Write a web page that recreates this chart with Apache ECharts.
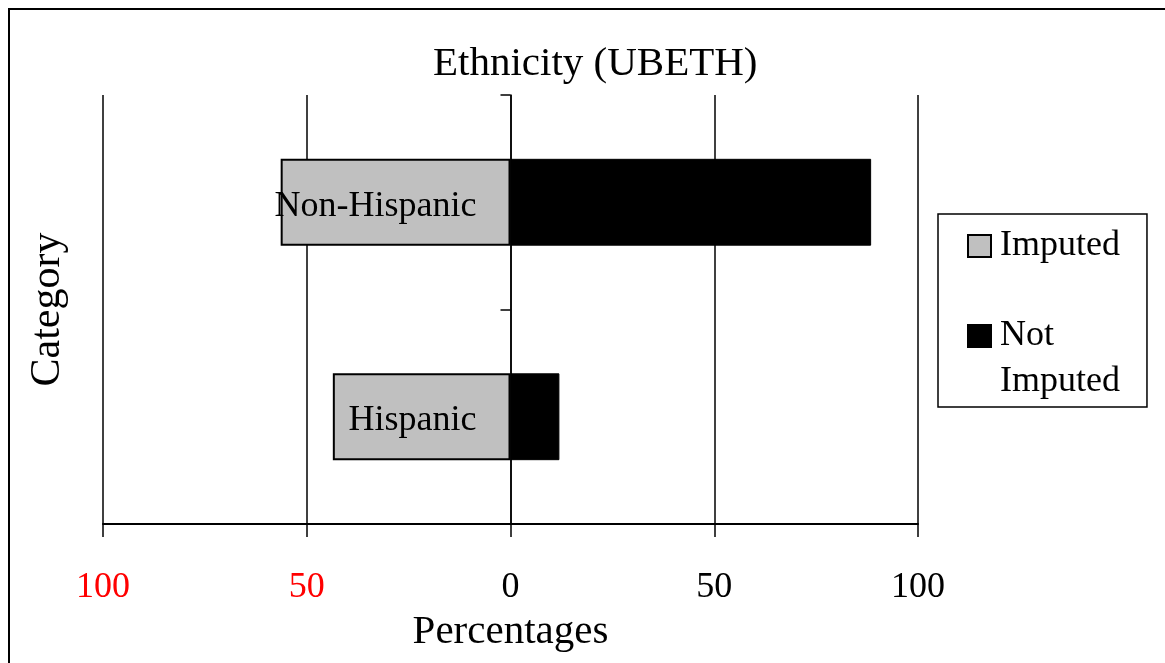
<!DOCTYPE html>
<html>
<head>
<meta charset="utf-8">
<script src="https://cdn.jsdelivr.net/npm/echarts@6/dist/echarts.min.js"></script>
<style>
  html, body { margin: 0; padding: 0; background: #fff; }
  #chart { width: 1165px; height: 663px; }
</style>
</head>
<body>
<div id="chart"></div>
<script>
// Ethnicity groups, bottom to top
const categories = ['Hispanic', 'Non-Hispanic'];
// Percent of imputed cases (drawn to the left of zero)
const imputedValues = [43.6, 56.4];
// Percent of non-imputed cases (drawn to the right of zero)
const notImputedValues = [12.0, 88.5];
// Percentage axis ticks
const xTicks = [-100, -50, 0, 50, 100];

const FONT = "'Liberation Serif', 'Times New Roman', serif";

// grid edges in pixels
const GRID_LEFT = 103, GRID_RIGHT = 247, GRID_TOP = 95, GRID_BOTTOM = 139;
// the category axis sits at x = 0, i.e. midway across the plot
const ZERO_X = GRID_LEFT + (1165 - GRID_LEFT - GRID_RIGHT) / 2;

const chart = echarts.init(document.getElementById('chart'));

chart.setOption({
  backgroundColor: '#fff',
  animation: false,
  textStyle: { fontFamily: FONT, color: '#000' },
  graphic: [{
    type: 'rect',
    shape: { x: 9, y: 9, width: 1300, height: 800 },
    style: { fill: 'none', stroke: '#000', lineWidth: 2 },
    silent: true
  }],
  title: {
    text: 'Ethnicity (UBETH)',
    left: 428,
    top: 39,
    textStyle: { fontFamily: FONT, fontWeight: 'normal', fontSize: 41, color: '#000' }
  },
  legend: {
    orient: 'vertical',
    left: 938,
    top: 214,
    padding: [9, 27, 2, 29],
    borderColor: '#000',
    borderWidth: 1.5,
    itemWidth: 23,
    itemHeight: 22,
    itemGap: -2,
    icon: 'rect',
    textStyle: { fontFamily: FONT, fontSize: 36, color: '#000', lineHeight: 46, padding: [0, 0, 0, 4] },
    // leading blank line keeps "Not" level with its swatch
    formatter: (name) => name === 'Not Imputed' ? '\nNot\nImputed' : name,
    data: ['Imputed', 'Not Imputed']
  },
  grid: { left: GRID_LEFT, right: GRID_RIGHT, top: GRID_TOP, bottom: GRID_BOTTOM, containLabel: false, outerBoundsMode: 'none' },
  xAxis: {
    type: 'value',
    min: xTicks[0],
    max: xTicks[xTicks.length - 1],
    interval: 50,
    name: 'Percentages',
    nameLocation: 'middle',
    nameGap: 88,
    nameTextStyle: { fontFamily: FONT, fontSize: 41, color: '#000' },
    axisLine: { show: true, onZero: false, lineStyle: { color: '#000', width: 2 } },
    axisTick: { show: true, length: 13, lineStyle: { color: '#000', width: 1.5 } },
    splitLine: { show: true, lineStyle: { color: '#000', width: 1.5 } },
    axisLabel: {
      margin: 46,
      fontFamily: FONT,
      fontSize: 36,
      color: '#000',
      formatter: (v) => v < 0 ? '{neg|' + Math.abs(v) + '}' : String(v),
      rich: { neg: { color: '#ff0000', fontFamily: FONT, fontSize: 36 } }
    }
  },
  yAxis: {
    type: 'category',
    data: categories,
    z: 10,
    name: 'Category',
    nameLocation: 'middle',
    nameGap: 34,
    nameTextStyle: { fontFamily: FONT, fontSize: 42, color: '#000' },
    axisLine: { show: true, onZero: true, lineStyle: { color: '#000', width: 1.5 } },
    axisTick: { show: true, length: 10, lineStyle: { color: '#000', width: 1.5 } },
    // labels are laid out from the grid's left edge; pull them in next to the zero line
    axisLabel: {
      margin: -(ZERO_X - GRID_LEFT) + 34,
      fontFamily: FONT,
      fontSize: 36,
      color: '#000',
      formatter: (v) => '{cat|' + v + '}',
      rich: { cat: { fontFamily: FONT, fontSize: 36, color: '#000', padding: [8, 0, 0, 0] } }
    }
  },
  series: [
    {
      name: 'Imputed',
      type: 'bar',
      stack: 'total',
      barWidth: '40.5%',
      data: imputedValues.map(v => -v),
      itemStyle: { color: '#c0c0c0', borderColor: '#000', borderWidth: 2 },
      z: 1
    },
    {
      name: 'Not Imputed',
      type: 'bar',
      stack: 'total',
      barWidth: '40.5%',
      data: notImputedValues,
      itemStyle: { color: '#000', borderColor: '#000', borderWidth: 1 },
      z: 1
    }
  ]
});
</script>
</body>
</html>
